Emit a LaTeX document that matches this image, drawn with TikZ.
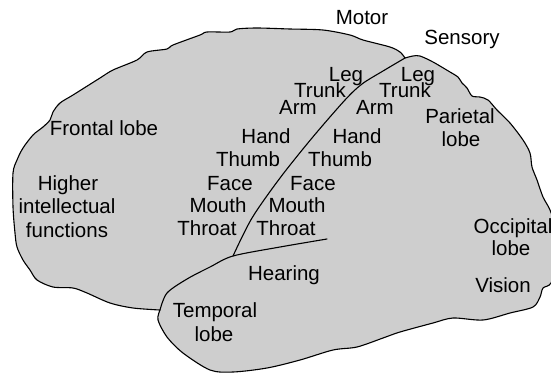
\documentclass[tikz,border=0pt]{standalone}
\usepackage{fontspec}
\setmainfont{Liberation Sans}
\usepackage{xcolor}
\definecolor{cortex}{RGB}{206,206,206}

\begin{document}
\begin{tikzpicture}[x=1pt,y=-1pt,line join=round,line cap=round,
  lbl/.style={anchor=base,inner sep=0pt,font=\fontsize{20.5}{24}\selectfont}]
  \useasboundingbox (0,0) rectangle (551,373);
  \coordinate (tip) at (405,58); \coordinate (fork) at (233,256);
  \coordinate (front) at (160,310); \coordinate (fissend) at (327,239);
  % outline: frontal edge up to the sulcus tip, then round the back and the temporal lobe
  \filldraw[fill=cortex,line width=1.1pt]
    plot[smooth,tension=.5] coordinates {(front) (133,308) (110,303) (87,293) (73,288) (53,287) (37,280) (30,270) (23,260) (17,247) (15,233) (13,207) (13,173) (17,160) (23,148) (33,135) (43,127) (50,120) (53,112) (60,103) (73,95) (100,78) (113,70) (137,60) (147,52) (167,49) (173,45) (200,35) (207,32) (230,32) (237,29) (257,28) (290,29) (323,30) (350,35) (363,40) (390,47) (400,52) (tip)}
    -- plot[smooth,tension=.5] coordinates {(tip) (413,56) (420,56) (433,62) (450,72) (458,77) (462,83) (467,88) (472,96) (480,97) (488,100) (497,110) (510,123) (523,140) (530,153) (532,167) (537,180) (543,197) (550,210) (556,230) (557,260) (551,283) (543,288) (540,297) (533,307) (510,313) (483,320) (453,318) (433,323) (400,332) (383,338) (357,347) (333,350) (300,360) (267,368) (233,372) (210,370) (183,353) (167,337) (158,320) (front)}
    -- cycle;
  % central sulcus and lateral fissure
  \draw[line width=1.1pt] plot[smooth,tension=.5] coordinates {(fork) (252,218) (280,178) (312,138) (345,100) (362,84) (383,71) (tip)};
  \draw[line width=1.1pt] plot[smooth,tension=.5] coordinates {(front) (167,293) (187,279) (210,267) (fork) (280,247) (fissend)};
  % labels, one line each
  \foreach \n/\x/\y/\t in {motor/362/24/Motor, sensory/462/44/Sensory,
      legM/346/81/Leg, trunkM/320/97/Trunk, armM/298/114/Arm, handM/266/143/Hand,
      thumbM/248/166/Thumb, faceM/230/190/Face, mouthM/218/212/Mouth, throatM/207/235/Throat,
      legS/418/81/Leg, trunkS/405/97/Trunk, armS/375/114/Arm, handS/357/143/Hand,
      thumbS/340/166/Thumb, faceS/313/190/Face, mouthS/297/212/Mouth, throatS/286/235/Throat,
      frontal/104/135/Frontal lobe, higher/68/190/Higher, intell/67/213/intellectual, funct/67/237/functions,
      parietal/460/123/Parietal, parlobe/461/146/lobe, hearing/284/280/Hearing,
      temporal/215/317/Temporal, templobe/214/341/lobe,
      occipital/513/233/Occipital, occlobe/511/255/lobe, vision/503/292/Vision}
    \node[lbl] (\n) at (\x,\y) {\t};
\end{tikzpicture}
\end{document}
